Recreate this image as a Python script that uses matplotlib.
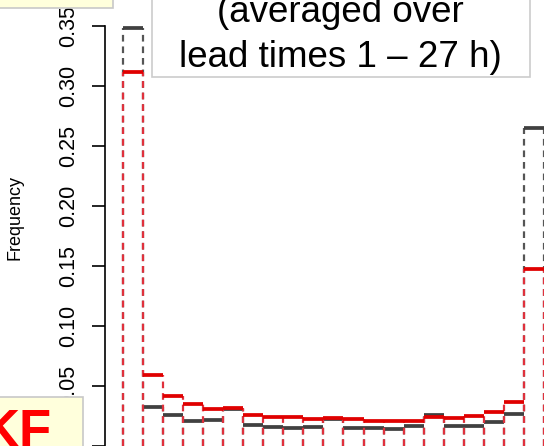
import matplotlib
matplotlib.use("Agg")
import matplotlib.pyplot as plt
from matplotlib.patches import Rectangle
import numpy as np

plt.rcParams['font.family'] = ['Liberation Sans', 'DejaVu Sans']

# Rank histogram frequencies (21 rank bins)
ranks = list(range(1, 22))
freq_black = [0.348, 0.0328, 0.0262, 0.0206, 0.0217, 0.031, 0.0175, 0.0162, 0.0151, 0.0156,
              0.0225, 0.0151, 0.0148, 0.0142, 0.0165, 0.0262, 0.0170, 0.0170, 0.0198, 0.0266, 0.2645]
freq_red = [0.3117, 0.0593, 0.0415, 0.0349, 0.0308, 0.0314, 0.0262, 0.0245, 0.0239, 0.0225,
            0.0233, 0.0223, 0.0212, 0.0212, 0.0212, 0.0239, 0.0231, 0.0247, 0.0286, 0.0369, 0.1472]
yticks = [0.0, 0.05, 0.10, 0.15, 0.20, 0.25, 0.30, 0.35]
ytick_labels = ["0.00", "0.05", "0.10", "0.15", "0.20", "0.25", "0.30", "0.35"]
box_lines = ["(averaged over", "lead times 1 \u2013 27 h)"]
corner_label = "KF"

W, H = 544, 446
fig = plt.figure(figsize=(W / 100, H / 100), dpi=100)

def fx(px):
    return px / W

def fy(py):
    return 1 - py / H

# axes: left spine at pixel x=105, spans full height
ax = fig.add_axes([fx(105), 0, fx(544 - 105), 1])
bin_w_px = 20.07
x0_px = 122.7
ax.set_xlim((105 - x0_px) / bin_w_px, (544 - x0_px) / bin_w_px)
ax.set_ylim((448.9 - 446) / 1208.3, 448.9 / 1208.3)

edges = np.arange(len(ranks) + 1)
left = edges[:-1]

black_col = '#404040'
red_dash = '#e0303c'
red_top = '#e00000'
dash = (0, (3.0, 2.2))

def side_heights(h):
    h = list(h)
    padded = [0.0] + h + [0.0]
    return [max(padded[i], padded[i + 1]) for i in range(len(h) + 1)]

ax.vlines(edges, 0, side_heights(freq_black), colors='#555555',
          linestyles=[dash], linewidth=1.6, zorder=2)
ax.hlines(freq_black, left, left + 1, colors=black_col, linewidth=2.7, zorder=3)
ax.vlines(edges, 0, side_heights(freq_red), colors=red_dash,
          linestyles=[dash], linewidth=1.6, zorder=4)
ax.hlines(freq_red, left, left + 1, colors=red_top, linewidth=2.7, zorder=5)

for s in ['top', 'right', 'bottom']:
    ax.spines[s].set_visible(False)
ax.spines['left'].set_bounds(0, 0.35)
ax.spines['left'].set_linewidth(1.2)
ax.set_yticks(yticks)
ax.set_yticklabels(ytick_labels, rotation=90, va='center', fontsize=15.5)
ax.tick_params(axis='y', length=9.5, width=1.2, pad=9)
ax.set_xticks([])
fig.text(fx(15), fy(218), "Frequency", rotation=90, ha='center', va='center', fontsize=13)

# top-left yellow box
fig.patches.append(Rectangle((fx(-5), fy(7.5)), fx(118), fy(-5) - fy(7.5),
                             transform=fig.transFigure, facecolor='#ffffdc',
                             edgecolor='#c8c8c8', linewidth=1.2, zorder=10))
# top-right white box
fig.patches.append(Rectangle((fx(152), fy(77)), fx(530 - 152), fy(-5) - fy(77),
                             transform=fig.transFigure, facecolor='white',
                             edgecolor='#cccccc', linewidth=1.2, zorder=10))
fig.text(fx(340), fy(22), box_lines[0], ha='center', va='baseline', fontsize=26.5, zorder=11)
fig.text(fx(340), fy(67), box_lines[1], ha='center', va='baseline', fontsize=26.5, zorder=11)

# bottom-left yellow box
fig.patches.append(Rectangle((fx(-5), fy(460)), fx(88), fy(397) - fy(460),
                             transform=fig.transFigure, facecolor='#ffffdc',
                             edgecolor='#c8c8c8', linewidth=1.2, zorder=10))
fig.text(fx(52), fy(447), corner_label, ha='right', va='baseline', fontsize=38,
         fontweight='bold', color='#ff0000', zorder=11)

fig.savefig("out.png", dpi=100)
